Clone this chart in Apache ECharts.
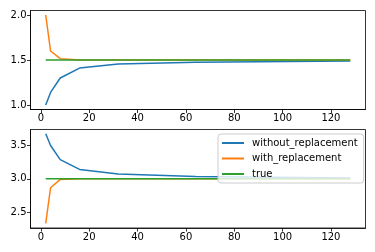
<!DOCTYPE html>
<html><head><meta charset="utf-8">
<script src="https://cdn.jsdelivr.net/npm/echarts@6/dist/echarts.min.js"></script>
<style>html,body{margin:0;padding:0;background:#fff}#c{width:375px;height:252px}</style>
</head><body><div id="c"></div>
<script>
const xs = [2, 4, 8, 16, 32, 64, 128];
const topWithout = [1.0, 1.14, 1.30, 1.41, 1.455, 1.475, 1.49];
const topWith = [2.0, 1.60, 1.515, 1.50, 1.50, 1.50, 1.50];
const topTrue = [1.5, 1.5, 1.5, 1.5, 1.5, 1.5, 1.5];
const botWithout = [3.675, 3.50, 3.287, 3.14, 3.07, 3.035, 3.01];
const botWith = [2.33, 2.865, 2.99, 3.0, 3.0, 3.0, 3.0];
const botTrue = [3.0, 3.0, 3.0, 3.0, 3.0, 3.0, 3.0];
const xTicks = [0, 20, 40, 60, 80, 100, 120];
const yTicksTop = [1.0, 1.5, 2.0];
const yTicksBot = [2.5, 3.0, 3.5];
const names = ['without_replacement', 'with_replacement', 'true'];
const colors = ['#1f77b4', '#ff7f0e', '#2ca02c'];

const pair = (ys) => xs.map((x, i) => [x, ys[i]]);
const font = 'DejaVu Sans';
function xAxis(gi) {
  return {
    type: 'value', gridIndex: gi, min: -4.3, max: 134.3,
    axisLine: { show: true, onZero: false, lineStyle: { color: '#000', width: 0.8 } },
    axisTick: { show: true, length: 3.5, customValues: xTicks, lineStyle: { color: '#000', width: 0.8 } },
    axisLabel: { customValues: xTicks, color: '#000', fontSize: 10, fontFamily: font, margin: 4 },
    splitLine: { show: false }
  };
}
function yAxis(gi, min, max, ticks) {
  return {
    type: 'value', gridIndex: gi, min: min, max: max,
    axisLine: { show: true, onZero: false, lineStyle: { color: '#000', width: 0.8 } },
    axisTick: { show: true, length: 3.5, customValues: ticks, lineStyle: { color: '#000', width: 0.8 } },
    axisLabel: { customValues: ticks, color: '#000', fontSize: 10, fontFamily: font, margin: 4,
      formatter: v => v.toFixed(1) },
    splitLine: { show: false }
  };
}
const topData = [topWithout, topWith, topTrue];
const botData = [botWithout, botWith, botTrue];
const series = [];
topData.forEach((d, i) => series.push({
  name: names[i], type: 'line', xAxisIndex: 0, yAxisIndex: 0, data: pair(d),
  symbol: 'none', lineStyle: { color: colors[i], width: 1.5 }, itemStyle: { color: colors[i] }, animation: false
}));
botData.forEach((d, i) => series.push({
  name: names[i], type: 'line', xAxisIndex: 1, yAxisIndex: 1, data: pair(d),
  symbol: 'none', lineStyle: { color: colors[i], width: 1.5 }, itemStyle: { color: colors[i] }, animation: false
}));
const chart = echarts.init(document.getElementById('c'), null, { renderer: 'canvas' });
chart.setOption({
  animation: false,
  backgroundColor: '#fff',
  grid: [
    { left: 30.5, right: 9.5, top: 10.5, height: 99, show: true, borderColor: '#000', borderWidth: 0.8 },
    { left: 30.5, right: 9.5, top: 129.5, height: 98.5, show: true, borderColor: '#000', borderWidth: 0.8 }
  ],
  xAxis: [xAxis(0), xAxis(1)],
  yAxis: [yAxis(0, 0.95, 2.05, yTicksTop), yAxis(1, 2.26, 3.74, yTicksBot)],
  legend: {
    data: names, orient: 'vertical', left: 218, top: 134,
    icon: 'rect', itemWidth: 22, itemHeight: 2, itemGap: 5.5,
    padding: [4, 6, 4, 4],
    backgroundColor: 'rgba(255,255,255,0.8)', borderColor: '#ccc', borderWidth: 1, borderRadius: 3,
    textStyle: { color: '#000', fontSize: 10, fontFamily: font, padding: [0, 0, 0, 3] }
  },
  series: series
});
</script></body></html>
